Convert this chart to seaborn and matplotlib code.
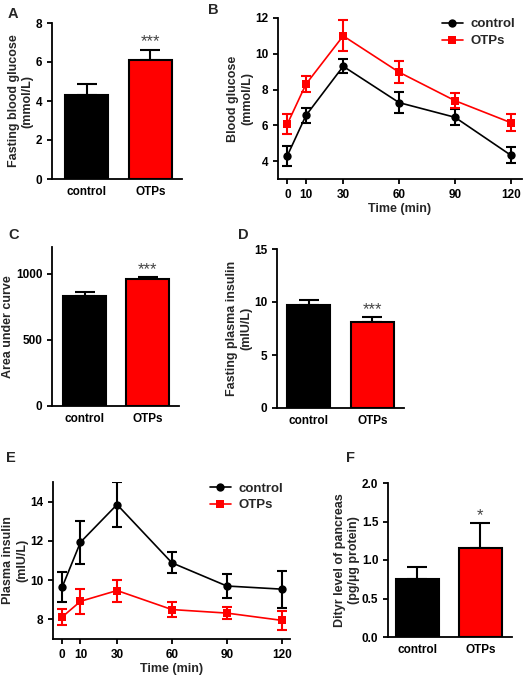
import numpy as np
import pandas as pd
import seaborn as sns
from matplotlib import pyplot as plt

# ---- data ----
groups = ['control', 'OTPs']
bar_colors = ['black', 'red']

fbg_mean = [4.33, 6.12]
fbg_err = [0.55, 0.5]

auc_mean = [833, 960]
auc_err = [25, 15]

fins_mean = [9.7, 8.15]
fins_err = [0.5, 0.4]

dityr_mean = [0.75, 1.16]
dityr_err = [0.16, 0.32]

time_min = [0, 10, 30, 60, 90, 120]
glu_control = [4.3, 6.55, 9.3, 7.27, 6.45, 4.33]
glu_control_err = [0.55, 0.42, 0.4, 0.58, 0.45, 0.45]
glu_otps = [6.07, 8.3, 11.0, 8.97, 7.38, 6.15]
glu_otps_err = [0.55, 0.45, 0.87, 0.6, 0.42, 0.48]

ins_control = [9.64, 11.93, 13.85, 10.88, 9.7, 9.54]
ins_control_err = [0.77, 1.1, 1.13, 0.53, 0.6, 0.95]
ins_otps = [8.12, 8.92, 9.47, 8.5, 8.32, 7.95]
ins_otps_err = [0.42, 0.64, 0.56, 0.4, 0.3, 0.47]

sns.set_style('ticks')
plt.rcParams['font.family'] = ['Liberation Sans', 'DejaVu Sans']
plt.rcParams['font.weight'] = 'bold'
plt.rcParams['axes.labelweight'] = 'bold'
plt.rcParams['axes.linewidth'] = 1.3
plt.rcParams['xtick.major.width'] = 1.3
plt.rcParams['ytick.major.width'] = 1.3
plt.rcParams['xtick.major.size'] = 3.5
plt.rcParams['ytick.major.size'] = 3.5
plt.rcParams['xtick.labelsize'] = 8.5
plt.rcParams['ytick.labelsize'] = 8.5
plt.rcParams['axes.labelsize'] = 9
plt.rcParams['axes.labelpad'] = 1.5
plt.rcParams['xtick.color'] = 'black'
plt.rcParams['ytick.color'] = 'black'
plt.rcParams['axes.edgecolor'] = 'black'

W, H = 524, 677
fig = plt.figure(figsize=(W / 100, H / 100), dpi=100)


def px_axes(left, top, right, bottom):
    return fig.add_axes([left / W, 1 - bottom / H, (right - left) / W, (bottom - top) / H])


def bar_panel(ax, means, errs, ylim, yticks, ylabel, star, star_y, xlim):
    df = pd.DataFrame({'group': groups, 'value': means})
    sns.barplot(data=df, x='group', y='value', hue='group', palette=bar_colors,
                saturation=1, width=0.68, edgecolor='black', linewidth=1.5,
                legend=False, ax=ax, zorder=3)
    ax.errorbar([0, 1], means, yerr=[[0, 0], errs], fmt='none', ecolor='black',
                elinewidth=1.5, capsize=7.5, capthick=1.5, zorder=2)
    ax.set_ylim(*ylim)
    ax.set_yticks(yticks)
    ax.set_xlim(*xlim)
    ax.set_xlabel('')
    ax.set_ylabel(ylabel)
    ax.tick_params(axis='x', length=0, pad=5)
    ax.text(1, star_y, star, ha='center', va='center', fontsize=12,
            fontweight='normal', color='#444444')
    sns.despine(ax=ax)


def line_panel(ax, ctrl, ctrl_err, otps, otps_err, ylim, yticks, ylabel, xlim):
    df = pd.DataFrame({'time': time_min * 2,
                       'value': ctrl + otps,
                       'group': ['control'] * len(time_min) + ['OTPs'] * len(time_min)})
    sns.lineplot(data=df, x='time', y='value', hue='group', style='group',
                 palette=bar_colors, markers={'control': 'o', 'OTPs': 's'}, dashes=False,
                 markersize=6, markeredgewidth=0, linewidth=1.2, ax=ax)
    ax.errorbar(time_min, ctrl, yerr=ctrl_err, fmt='none', ecolor='black',
                elinewidth=1.5, capsize=3.5, capthick=1.5)
    ax.errorbar(time_min, otps, yerr=otps_err, fmt='none', ecolor='red',
                elinewidth=1.5, capsize=3.5, capthick=1.5)
    ax.set_xlim(*xlim)
    ax.set_ylim(*ylim)
    ax.set_xticks(time_min)
    ax.set_yticks(yticks)
    ax.set_xlabel('Time (min)')
    ax.set_ylabel(ylabel)
    leg = ax.legend(loc='upper right', bbox_to_anchor=(1.0, 1.04), frameon=False,
                    fontsize=9.5, handlelength=1.6, handletextpad=0.6,
                    labelspacing=0.35, borderaxespad=0.1)
    for t in leg.get_texts():
        t.set_fontweight('bold')
    sns.despine(ax=ax)


# A
axA = px_axes(52, 23, 182, 179)
bar_panel(axA, fbg_mean, fbg_err, (0, 8), [0, 2, 4, 6, 8],
          'Fasting blood glucose\n(mmol/L)', '***', 7.05, (-0.55, 1.5))

# B
axB = px_axes(278, 18, 522, 179)
line_panel(axB, glu_control, glu_control_err, glu_otps, glu_otps_err,
           (3, 12), [4, 6, 8, 10, 12], 'Blood glucose\n(mmol/L)', (-5, 126))

# C
axC = px_axes(52, 247, 179, 406)
bar_panel(axC, auc_mean, auc_err, (0, 1200), [0, 500, 1000],
          'Area under curve', '***', 1030, (-0.52, 1.5))

# D
axD = px_axes(277, 249, 404, 408)
bar_panel(axD, fins_mean, fins_err, (0, 15), [0, 5, 10, 15],
          'Fasting plasma insulin\n(mIU/L)', '***', 9.25, (-0.5, 1.5))

# E
axE = px_axes(53, 482, 290, 639)
line_panel(axE, ins_control, ins_control_err, ins_otps, ins_otps_err,
           (7, 15), [8, 10, 12, 14], 'Plasma insulin\n(mIU/L)', (-5, 124.5))

# F
axF = px_axes(388, 483, 512, 637)
bar_panel(axF, dityr_mean, dityr_err, (0, 2.0), [0.0, 0.5, 1.0, 1.5, 2.0],
          'Dityr level of pancreas\n(pg/\u00b5g protein)', '*', 1.57, (-0.46, 1.5))
axF.yaxis.set_major_formatter(plt.FormatStrFormatter('%.1f'))

# panel letters
for letter, (x, y) in {'A': (8, 14), 'B': (208, 10), 'C': (8, 235), 'D': (238, 235),
                       'E': (6, 458), 'F': (346, 458)}.items():
    fig.text(x / W, 1 - y / H, letter, fontsize=10.5, fontweight='bold', va='center')

fig.savefig('out.png', dpi=100)
